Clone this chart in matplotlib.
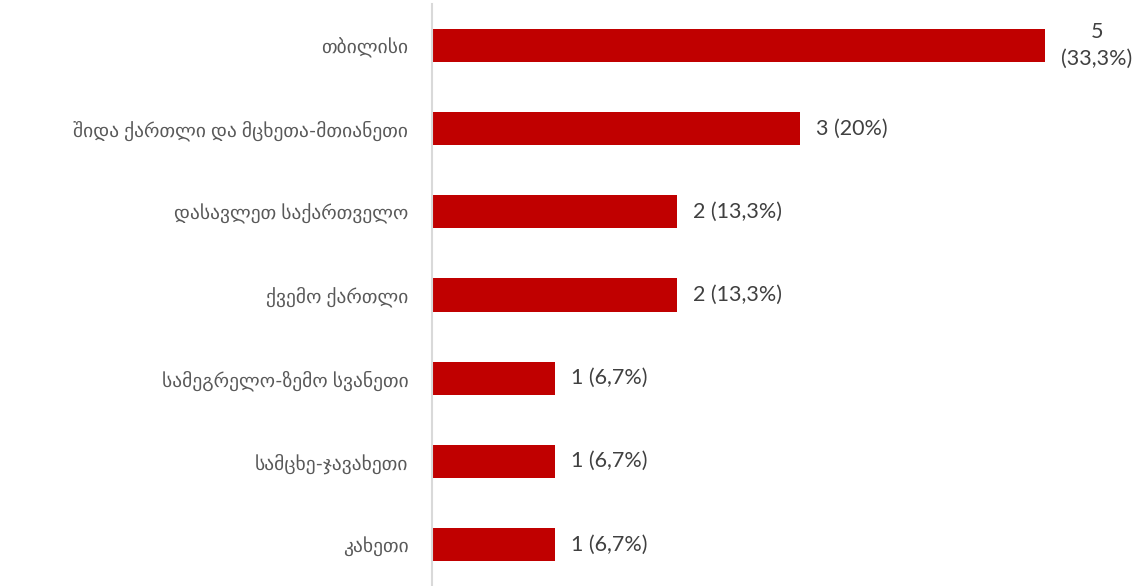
import numpy as np
import matplotlib.pyplot as plt

plt.rcParams['font.family'] = ['Lato', 'DejaVu Sans']

regions = ['თბილისი', 'შიდა ქართლი და მცხეთა-მთიანეთი', 'დასავლეთ საქართველო',
           'ქვემო ქართლი', 'სამეგრელო-ზემო სვანეთი', 'სამცხე-ჯავახეთი', 'კახეთი']
counts = [5, 3, 2, 2, 1, 1, 1]
labels = ['5\n(33,3%)', '3 (20%)', '2 (13,3%)', '2 (13,3%)', '1 (6,7%)', '1 (6,7%)', '1 (6,7%)']

fig = plt.figure(figsize=(11.42, 5.86), dpi=100)
ax = fig.add_axes([432/1142, 0, 1 - 432/1142, 1 - 4/586])

y = np.arange(len(regions))
ax.barh(y, counts, height=0.4, color='#C00000')
ax.set_ylim(len(regions) - 0.5, -0.5)
ax.set_xlim(0, 5.79)
ax.set_yticks(y)
ax.set_yticklabels(regions, fontsize=14, color='#595959')
ax.set_xticks([])
ax.tick_params(axis='y', length=0, pad=17)
for s in ['top', 'right', 'bottom']:
    ax.spines[s].set_visible(False)
ax.spines['left'].set_color('#D9D9D9')
ax.spines['left'].set_linewidth(1.5)

# value labels next to the bars
for yi, c, lab in zip(y, counts, labels):
    ax.annotate(lab, (c, yi), xytext=(16, 0), textcoords='offset pixels',
                ha='left', va='center', multialignment='center', linespacing=1.45,
                fontsize=15.5, color='#404040')

fig.savefig('out.png', dpi=100)
